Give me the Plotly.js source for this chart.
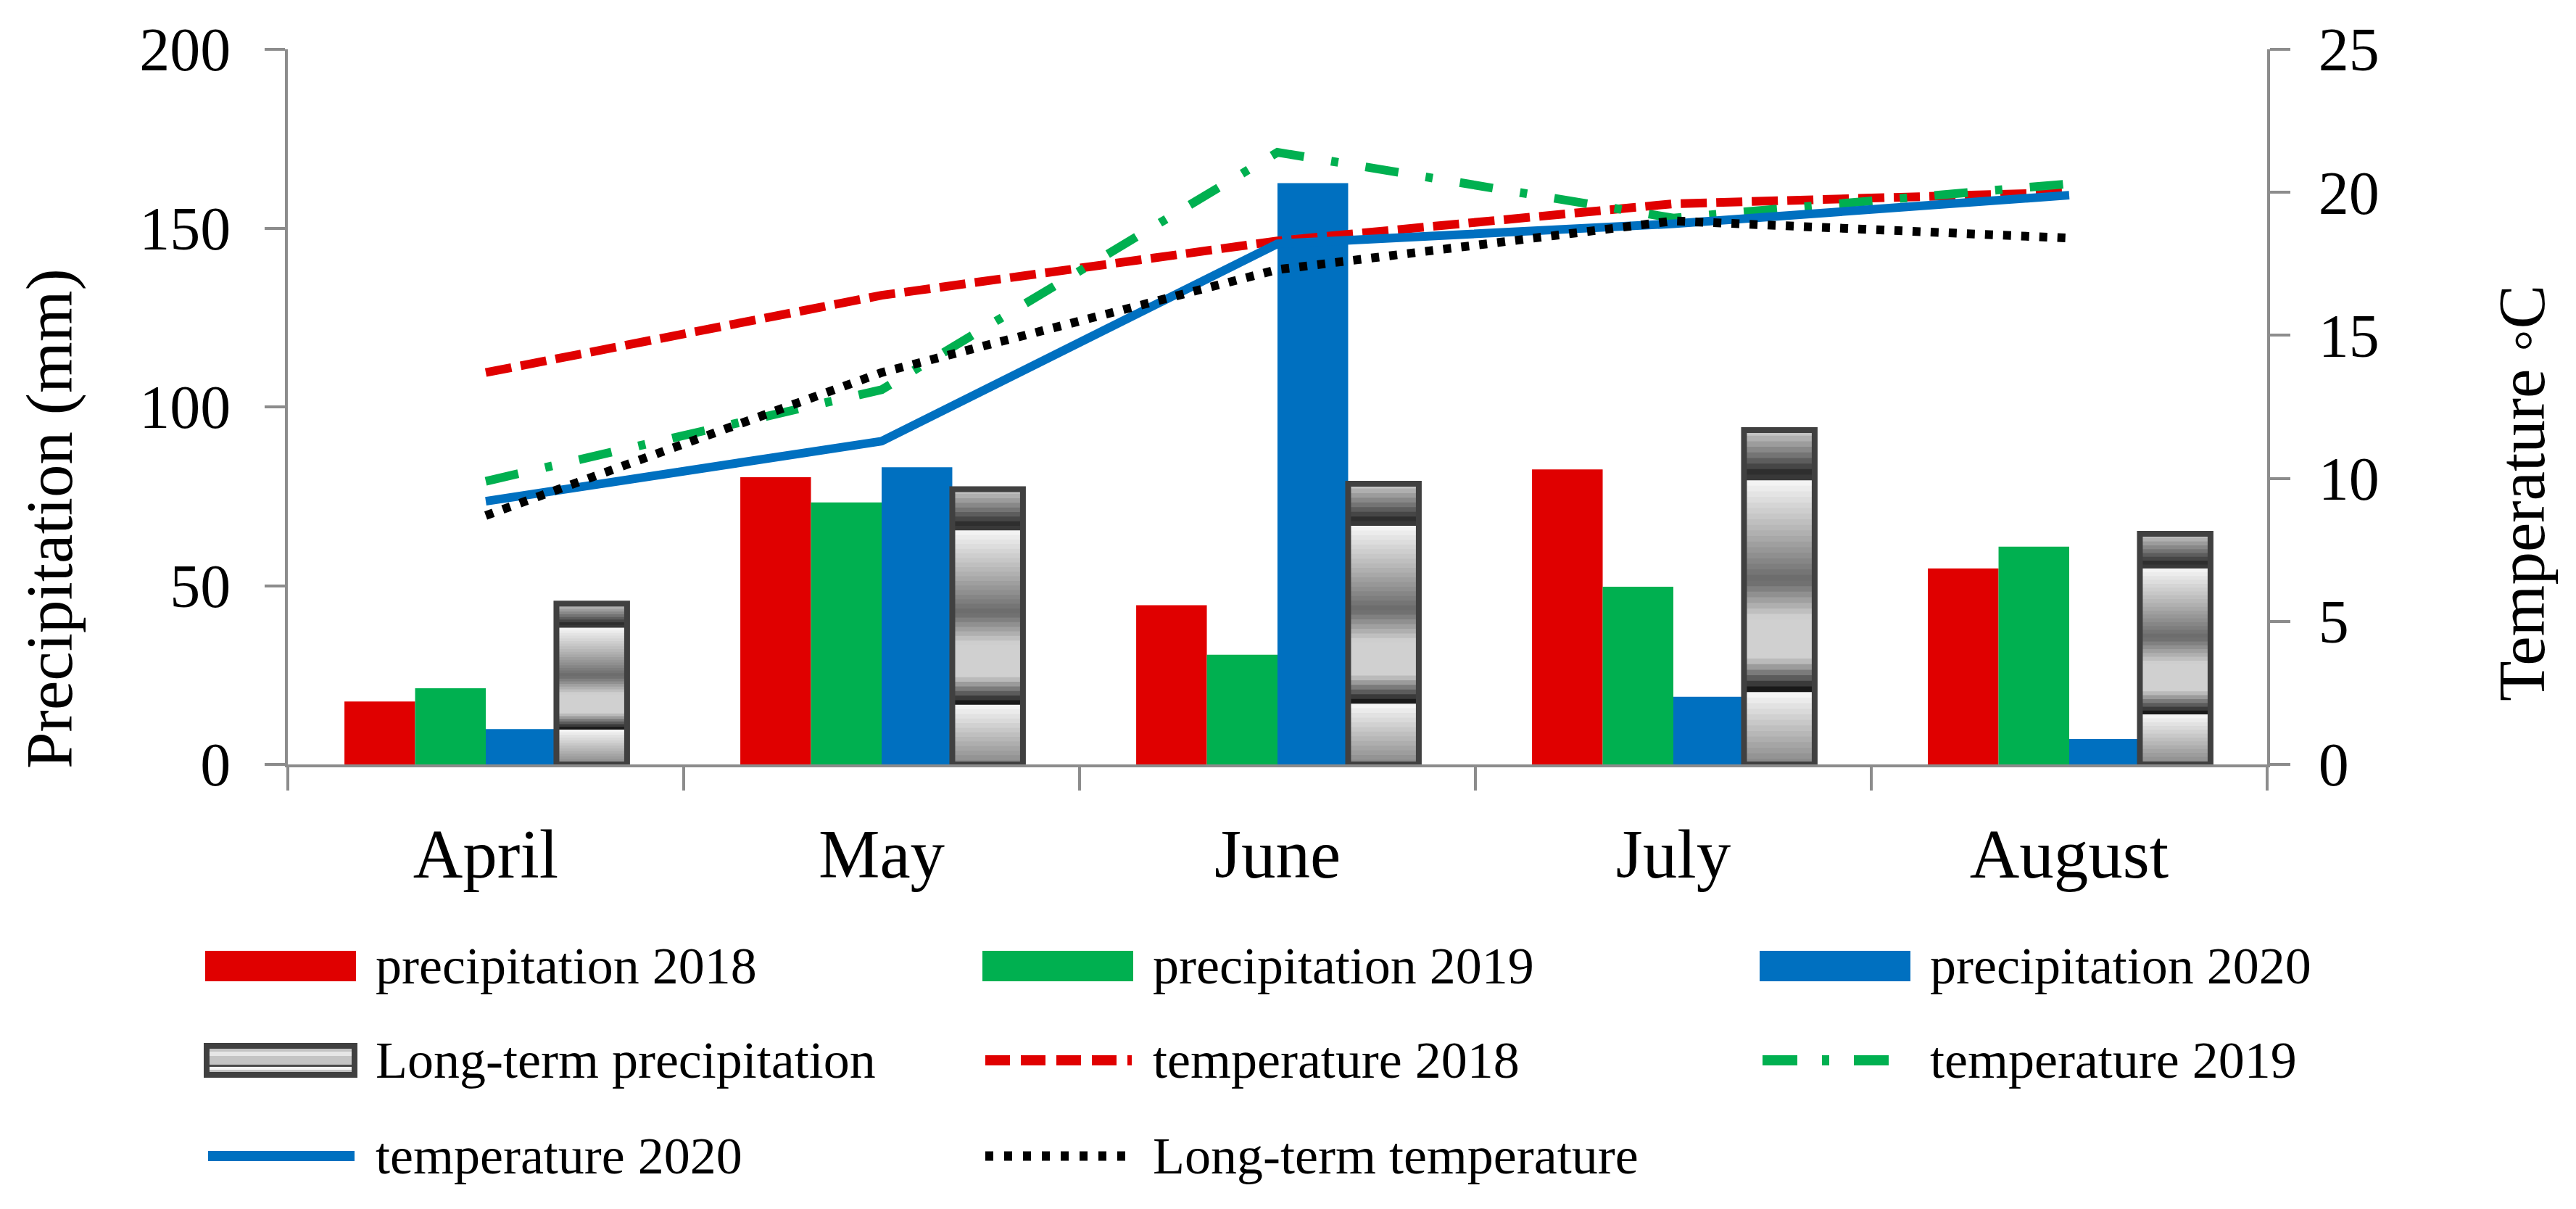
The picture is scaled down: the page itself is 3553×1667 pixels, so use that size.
<!DOCTYPE html>
<html>
<head>
<meta charset="utf-8">
<script src="https://cdn.plot.ly/plotly-3.0.1.min.js"></script>
<style>
  html, body { margin: 0; padding: 0; background: #ffffff; }
  #chart { width: 3553px; height: 1667px; }
</style>
</head>
<body>
<div id="chart"></div>
<script>
const months = ["April", "May", "June", "July", "August"];

const precip2018 = [17.6, 80.3, 44.5, 82.5, 54.8];
const precip2019 = [21.3, 73.3, 30.7, 49.7, 60.9];
const precip2020 = [9.9, 83.1, 162.6, 18.9, 7.1];
const precipLongTerm = [45, 77, 78.5, 93.5, 64.5];

const temp2018 = [13.7, 16.4, 18.3, 19.6, 20.0];
const temp2019 = [9.9, 13.1, 21.4, 19.1, 20.3];
const temp2020 = [9.2, 11.3, 18.2, 18.9, 19.9];
const tempLongTerm = [8.7, 13.7, 17.3, 19.0, 18.4];

const FONT = "Liberation Serif, Times New Roman, serif";
const AXIS = "#8c8c8c";
const RED = "#e00000";
const GREEN = "#00b050";
const BLUE = "#0070c0";
const FRAME = "#404040";

// grey ramp used to fake the glossy fill of the long-term bars (t: 0 top, 1 bottom)
const shade = [
  [0.0, 205], [0.08, 110], [0.14, 25], [0.152, 246], [0.3, 180], [0.45, 105],
  [0.56, 208], [0.68, 208], [0.74, 95], [0.775, 25], [0.787, 246], [1.0, 135],
];

function greyAt(t) {
  for (let i = 1; i < shade.length; i++) {
    const [t1, g1] = shade[i];
    const [t0, g0] = shade[i - 1];
    if (t <= t1) {
      const g = Math.round(g0 + (g1 - g0) * (t - t0) / (t1 - t0));
      return `rgb(${g},${g},${g})`;
    }
  }
  return "rgb(135,135,135)";
}

function barTrace(name, values, color, group) {
  return {
    type: "bar", name, x: months, y: values, offsetgroup: group,
    marker: { color, line: { width: 0 } }, showlegend: false,
  };
}

const traces = [
  barTrace("precipitation 2018", precip2018, RED, "p18"),
  barTrace("precipitation 2019", precip2019, GREEN, "p19"),
  barTrace("precipitation 2020", precip2020, BLUE, "p20"),
];

const SEG = 60;
for (let i = 0; i < SEG; i++) {
  traces.push({
    type: "bar", x: months, offsetgroup: "lt", hoverinfo: "skip", showlegend: false,
    base: precipLongTerm.map((v) => v * i / SEG),
    y: precipLongTerm.map((v) => v * (SEG - i) / SEG),
    marker: { color: greyAt(1 - (i + 0.5) / SEG), line: { width: 0 } },
  });
}
traces.push({
  type: "bar", name: "Long-term precipitation", x: months, y: precipLongTerm,
  offsetgroup: "lt", showlegend: false,
  marker: { color: "rgba(0,0,0,0)", line: { color: FRAME, width: 8 } },
});

function lineTrace(name, values, color, dash) {
  return {
    type: "scatter", mode: "lines", name, x: months, y: values, yaxis: "y2",
    line: { color, width: 12, dash }, showlegend: false,
  };
}

traces.push(
  lineTrace("temperature 2018", temp2018, RED, "36px,13px"),
  lineTrace("temperature 2019", temp2019, GREEN, "46px,38px,10px,38px"),
  lineTrace("temperature 2020", temp2020, BLUE, "solid"),
  lineTrace("Long-term temperature", tempLongTerm, "#000000", "11px,14px"),
);

// hand-made legend below the plot, three columns
const PLOT = { x0: 397, x1: 3127, y0: 1054, y1: 68 };
const px = (v) => (v - PLOT.x0) / (PLOT.x1 - PLOT.x0);
const py = (v) => (PLOT.y0 - v) / (PLOT.y0 - PLOT.y1);

const legendCols = [283, 1355, 2427];
const legendRows = [1332, 1462, 1594];
const legendItems = [
  { name: "precipitation 2018", kind: "bar", color: RED },
  { name: "precipitation 2019", kind: "bar", color: GREEN },
  { name: "precipitation 2020", kind: "bar", color: BLUE },
  { name: "Long-term precipitation", kind: "lt" },
  { name: "temperature 2018", kind: "line", color: RED, dash: "34px,15px", width: 14 },
  { name: "temperature 2019", kind: "line", color: GREEN, dash: "48px,34px,10px,34px", width: 14 },
  { name: "temperature 2020", kind: "line", color: BLUE, dash: "solid", width: 14 },
  { name: "Long-term temperature", kind: "line", color: "#000000", dash: "11px,15px", width: 13 },
];

const shapes = [];
const annotations = [];
legendItems.forEach((item, k) => {
  const cx = legendCols[k % 3];
  const cy = legendRows[Math.floor(k / 3)];
  const rect = (x0, x1, y0, y1, color) => shapes.push({
    type: "rect", xref: "paper", yref: "paper",
    x0: px(x0), x1: px(x1), y0: py(y1), y1: py(y0),
    fillcolor: color, line: { width: 0 },
  });
  if (item.kind === "bar") {
    rect(cx, cx + 208, cy - 21, cy + 21, item.color);
  } else if (item.kind === "lt") {
    rect(cx - 2, cx + 210, cy - 24, cy + 24, FRAME);
    rect(cx + 6, cx + 202, cy - 16, cy + 16, "#c4c4c4");
    rect(cx + 6, cx + 202, cy - 12, cy - 6, "#e6e6e6");
    rect(cx + 6, cx + 202, cy + 6, cy + 9, "#4a4a4a");
    rect(cx + 6, cx + 202, cy + 9, cy + 13, "#f4f4f4");
  } else {
    shapes.push({
      type: "line", xref: "paper", yref: "paper",
      x0: px(cx + 4), x1: px(cx + 206), y0: py(cy), y1: py(cy),
      line: { color: item.color, width: item.width, dash: item.dash },
    });
  }
  annotations.push({
    xref: "paper", yref: "paper", x: px(cx + 233), y: py(cy),
    xanchor: "left", yanchor: "middle", showarrow: false,
    text: item.name, font: { family: FONT, size: 72, color: "#000000" },
  });
});

// axis titles sit off-centre in the original, so place them by hand
annotations.push(
  {
    xref: "paper", yref: "paper", x: px(68), y: py(715), textangle: -90,
    xanchor: "center", yanchor: "middle", showarrow: false,
    text: "Precipitation (mm)", font: { family: FONT, size: 91, color: "#000000" },
  },
  {
    xref: "paper", yref: "paper", x: px(3478), y: py(680), textangle: -90,
    xanchor: "center", yanchor: "middle", showarrow: false,
    text: "Temperature ◦C", font: { family: FONT, size: 91, color: "#000000" },
  },
);

const layout = {
  width: 3553,
  height: 1667,
  margin: { l: 397, r: 426, t: 68, b: 613 },
  paper_bgcolor: "#ffffff",
  plot_bgcolor: "#ffffff",
  font: { family: FONT, color: "#000000" },
  barmode: "group",
  bargap: 0.286,
  bargroupgap: 0,
  showlegend: false,
  xaxis: {
    type: "category", range: [-0.5, 4.5],
    showline: true, linecolor: AXIS, linewidth: 4,
    ticks: "outside", tickson: "boundaries", ticklen: 32, tickwidth: 4, tickcolor: AXIS,
    tickfont: { family: FONT, size: 95, color: "#000000" },
    ticklabelstandoff: 38,
    showgrid: false, zeroline: false,
  },
  yaxis: {
    range: [0, 200], tick0: 0, dtick: 50,
    showline: true, linecolor: AXIS, linewidth: 4,
    ticks: "outside", ticklen: 28, tickwidth: 4, tickcolor: AXIS,
    tickfont: { family: FONT, size: 84, color: "#000000" },
    ticklabelstandoff: 30,
    showgrid: false, zeroline: false,
  },
  yaxis2: {
    overlaying: "y", side: "right", range: [0, 25], tick0: 0, dtick: 5,
    showline: true, linecolor: AXIS, linewidth: 4,
    ticks: "outside", ticklen: 28, tickwidth: 4, tickcolor: AXIS,
    tickfont: { family: FONT, size: 84, color: "#000000" },
    ticklabelstandoff: 22,
    showgrid: false, zeroline: false,
  },
  shapes,
  annotations,
};

Plotly.newPlot("chart", traces, layout, { displayModeBar: false, staticPlot: true });
</script>
</body>
</html>
